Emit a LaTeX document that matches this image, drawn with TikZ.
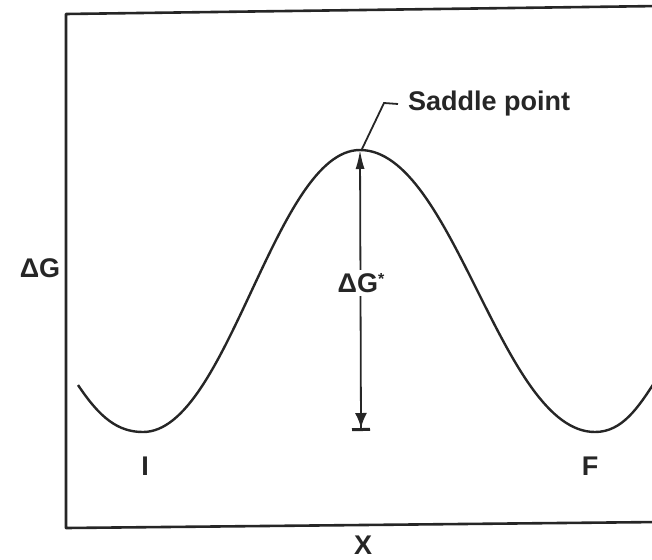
\documentclass[tikz,border=0pt]{standalone}
\usepackage{fontspec}
\setmainfont{Liberation Sans}
\usetikzlibrary{arrows.meta}
\begin{document}
\begin{tikzpicture}[x=1pt,y=-1pt,
  frame/.style={line width=2.6pt,draw=black!85,line join=round},
  curve/.style={line width=2.4pt,draw=black!85},
  lbl/.style={font=\fontsize{27}{30}\selectfont\bfseries,text=black!85,inner sep=1pt},
  dim/.style={line width=1.8pt,draw=black!85}]
\useasboundingbox (0,0) rectangle (652,559);
% frame (right side lies beyond the picture)
\draw[frame] (660,6) -- (66,14) -- (66,528) -- (660,522);
% energy curve
\coordinate (lend) at (78,385);
\coordinate (imin) at (143,432);
\coordinate (peak) at (360,150);
\coordinate (fmin) at (595,432);
\coordinate (rend) at (656,380);
\draw[curve] (lend) .. controls (100,418) and (118,432) .. (imin)
  .. controls (228,432) and (275,150) .. (peak)
  .. controls (454,150) and (501,432) .. (fmin)
  .. controls (622,432) and (638,408) .. (rend);
% activation energy arrow
\coordinate (base) at (361,431);
\draw[dim,{Latex[length=19pt,width=9pt]}-{Latex[length=15pt,width=12pt]Bar[width=18pt,line width=3pt]}] (peak) -- (base);
\node[lbl,fill=white,inner sep=3pt] (dgs) at (361,283) {ΔG\raisebox{0.3em}{\fontsize{16}{16}\selectfont*}};
% saddle point leader
\node[lbl,anchor=west,inner sep=10pt] (sp) at (398,104) {Saddle point};
\coordinate (bend) at (384,103);
\draw[line width=1.8pt,draw=black!85] (362,149) -- (bend) -- (sp.west);
% axis labels
\node[lbl] (dg) at (40,268) {ΔG};
\node[lbl] (xl) at (363,545) {X};
\node[lbl] (il) at (145,466) {I};
\node[lbl] (fl) at (590,466) {F};
\end{tikzpicture}
\end{document}
